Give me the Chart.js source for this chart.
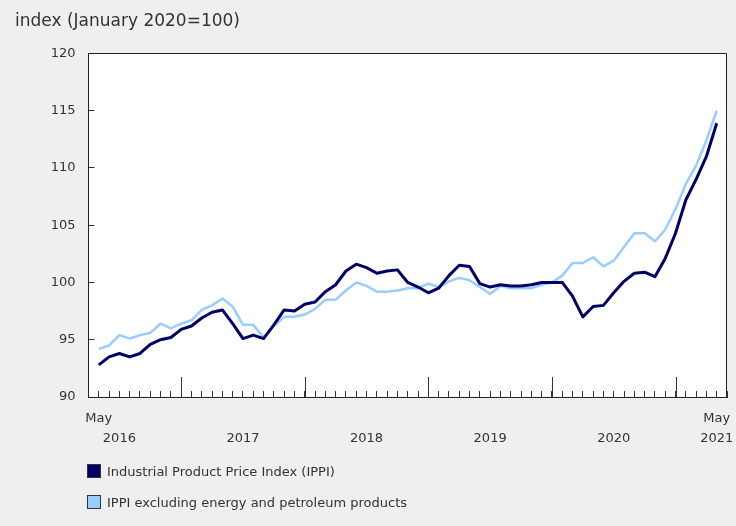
<!DOCTYPE html>
<html>
<head>
<meta charset="utf-8">
<script src="https://cdn.jsdelivr.net/npm/chart.js@4/dist/chart.umd.min.js"></script>
<style>
  html, body { margin: 0; padding: 0; background: #efefef; }
  #wrap { position: relative; width: 736px; height: 526px; }
  #legend { position: absolute; left: 87px; top: 464px; font: 13px "DejaVu Sans", sans-serif; color: #333; }
  .item { display: flex; align-items: center; height: 14px; margin-bottom: 17px; white-space: nowrap; }
  .box { width: 12px; height: 12px; border: 1px solid #333; margin-right: 6px; }
</style>
</head>
<body>
<div id="wrap">
  <canvas id="chart" width="736" height="526"></canvas>
  <div id="legend"></div>
</div>
<script>
// IPPI monthly index, May 2016 - May 2021 (January 2020=100)

const months = [
  'May 2016', 'Jun 2016', 'Jul 2016', 'Aug 2016', 'Sep 2016', 'Oct 2016', 'Nov 2016', 'Dec 2016',
  'Jan 2017', 'Feb 2017', 'Mar 2017', 'Apr 2017', 'May 2017', 'Jun 2017', 'Jul 2017', 'Aug 2017', 'Sep 2017', 'Oct 2017', 'Nov 2017', 'Dec 2017',
  'Jan 2018', 'Feb 2018', 'Mar 2018', 'Apr 2018', 'May 2018', 'Jun 2018', 'Jul 2018', 'Aug 2018', 'Sep 2018', 'Oct 2018', 'Nov 2018', 'Dec 2018',
  'Jan 2019', 'Feb 2019', 'Mar 2019', 'Apr 2019', 'May 2019', 'Jun 2019', 'Jul 2019', 'Aug 2019', 'Sep 2019', 'Oct 2019', 'Nov 2019', 'Dec 2019',
  'Jan 2020', 'Feb 2020', 'Mar 2020', 'Apr 2020', 'May 2020', 'Jun 2020', 'Jul 2020', 'Aug 2020', 'Sep 2020', 'Oct 2020', 'Nov 2020', 'Dec 2020',
  'Jan 2021', 'Feb 2021', 'Mar 2021', 'Apr 2021', 'May 2021'
];

const ippi = [
  92.8, 93.5, 93.8, 93.5, 93.8, 94.6, 95.0, 95.2,
  95.9, 96.2, 96.9, 97.4, 97.6, 96.4, 95.1, 95.4, 95.1, 96.3, 97.6, 97.5,
  98.1, 98.3, 99.2, 99.8, 101.0, 101.6, 101.3, 100.8, 101.0, 101.1, 100.0, 99.6,
  99.1, 99.5, 100.6, 101.5, 101.4, 99.9, 99.6, 99.8, 99.7, 99.7, 99.8, 100.0,
  100.0, 100.0, 98.8, 97.0, 97.9, 98.0, 99.1, 100.1, 100.8, 100.9, 100.5, 102.1,
  104.3, 107.2, 109.0, 111.0, 113.9
];

const ippiExEnergy = [
  94.2, 94.5, 95.4, 95.1, 95.4, 95.6, 96.4, 96.0,
  96.4, 96.7, 97.6, 98.0, 98.6, 97.9, 96.3, 96.3, 95.2, 96.2, 97.0, 97.0,
  97.2, 97.7, 98.5, 98.5, 99.3, 100.0, 99.7, 99.2, 99.2, 99.3, 99.5, 99.5,
  99.9, 99.6, 100.1, 100.4, 100.2, 99.6, 99.0, 99.7, 99.5, 99.5, 99.5, 99.8,
  100.0, 100.6, 101.7, 101.7, 102.2, 101.4, 101.9, 103.1, 104.3, 104.3, 103.6, 104.6,
  106.4, 108.6, 110.2, 112.4, 115.0
];

const seriesNames = ['Industrial Product Price Index (IPPI)', 'IPPI excluding energy and petroleum products'];
const seriesColors = ['#000066', '#99ccff'];

// x tick text by month index (two lines: month / year)
const xTickText = {
  0: ['May'], 2: ['', '2016'], 14: ['', '2017'], 26: ['', '2018'],
  38: ['', '2019'], 50: ['', '2020'], 60: ['May', '2021']
};

const FONT = '"DejaVu Sans", Verdana, sans-serif';

// white plot area, top/right frame and long January ticks
const framePlugin = {
  id: 'frame',
  beforeDraw(chart) {
    const { ctx, chartArea: a } = chart;
    ctx.save();
    ctx.fillStyle = '#ffffff';
    ctx.fillRect(a.left, a.top, a.right - a.left, a.bottom - a.top);
    ctx.restore();
  },
  afterDraw(chart) {
    const { ctx, chartArea: a, scales } = chart;
    ctx.save();
    ctx.strokeStyle = '#222';
    ctx.lineWidth = 1;
    ctx.beginPath();
    ctx.moveTo(Math.round(a.left) + 0.5, Math.round(a.top) + 0.5);
    ctx.lineTo(Math.round(a.right) - 0.5, Math.round(a.top) + 0.5);
    ctx.lineTo(Math.round(a.right) - 0.5, Math.round(a.bottom));
    ctx.stroke();
    ctx.strokeStyle = '#333';
    months.forEach((m, i) => {
      if (!m.startsWith('Jan')) return;
      const x = Math.round(scales.x.getPixelForValue(i)) + 0.5;
      ctx.beginPath();
      ctx.moveTo(x, a.bottom);
      ctx.lineTo(x, a.bottom - 20);
      ctx.stroke();
    });
    ctx.restore();
  }
};

const chart = new Chart(document.getElementById('chart'), {
  type: 'line',
  data: {
    datasets: [ippi, ippiExEnergy].map((values, idx) => ({
      label: seriesNames[idx],
      data: values.map((v, i) => ({ x: i, y: v })),
      borderColor: seriesColors[idx],
      backgroundColor: seriesColors[idx],
      borderWidth: idx === 0 ? 3 : 2.5,
      borderJoinStyle: 'round',
      pointRadius: 0,
      tension: 0
    }))
  },
  options: {
    responsive: false,
    animation: false,
    layout: { padding: { left: 15, right: 9, top: 0, bottom: 78 } },
    plugins: {
      legend: { display: false },
      tooltip: { enabled: false },
      title: {
        display: true,
        text: 'index (January 2020=100)',
        align: 'start',
        color: '#333',
        font: { family: FONT, size: 17, weight: 'normal' },
        padding: { top: 11, bottom: 22 }
      }
    },
    scales: {
      x: {
        type: 'linear',
        min: -1,
        max: 61,
        grid: { drawOnChartArea: false, tickLength: -6, tickColor: '#333' },
        border: { color: '#222' },
        ticks: {
          stepSize: 1,
          maxTicksLimit: 100,
          autoSkip: false,
          maxRotation: 0,
          padding: 18,
          color: '#333',
          font: { family: FONT, size: 13, lineHeight: 1.5 },
          callback: v => xTickText[v] || ''
        },
        afterFit: s => { s.height = 51; s.paddingLeft = 0; s.paddingRight = 0; }
      },
      y: {
        min: 90,
        max: 120,
        grid: { drawOnChartArea: false, tickLength: -6, tickColor: '#333' },
        border: { color: '#222' },
        ticks: {
          stepSize: 5,
          padding: 19,
          color: '#333',
          font: { family: FONT, size: 13 }
        },
        afterFit: s => { s.width = 73.5; }
      }
    }
  },
  plugins: [framePlugin]
});

// legend built from the chart datasets
document.getElementById('legend').innerHTML = chart.data.datasets.map(ds =>
  `<div class="item"><span class="box" style="background:${ds.borderColor}"></span>${ds.label}</div>`
).join('');
</script>
</body>
</html>
